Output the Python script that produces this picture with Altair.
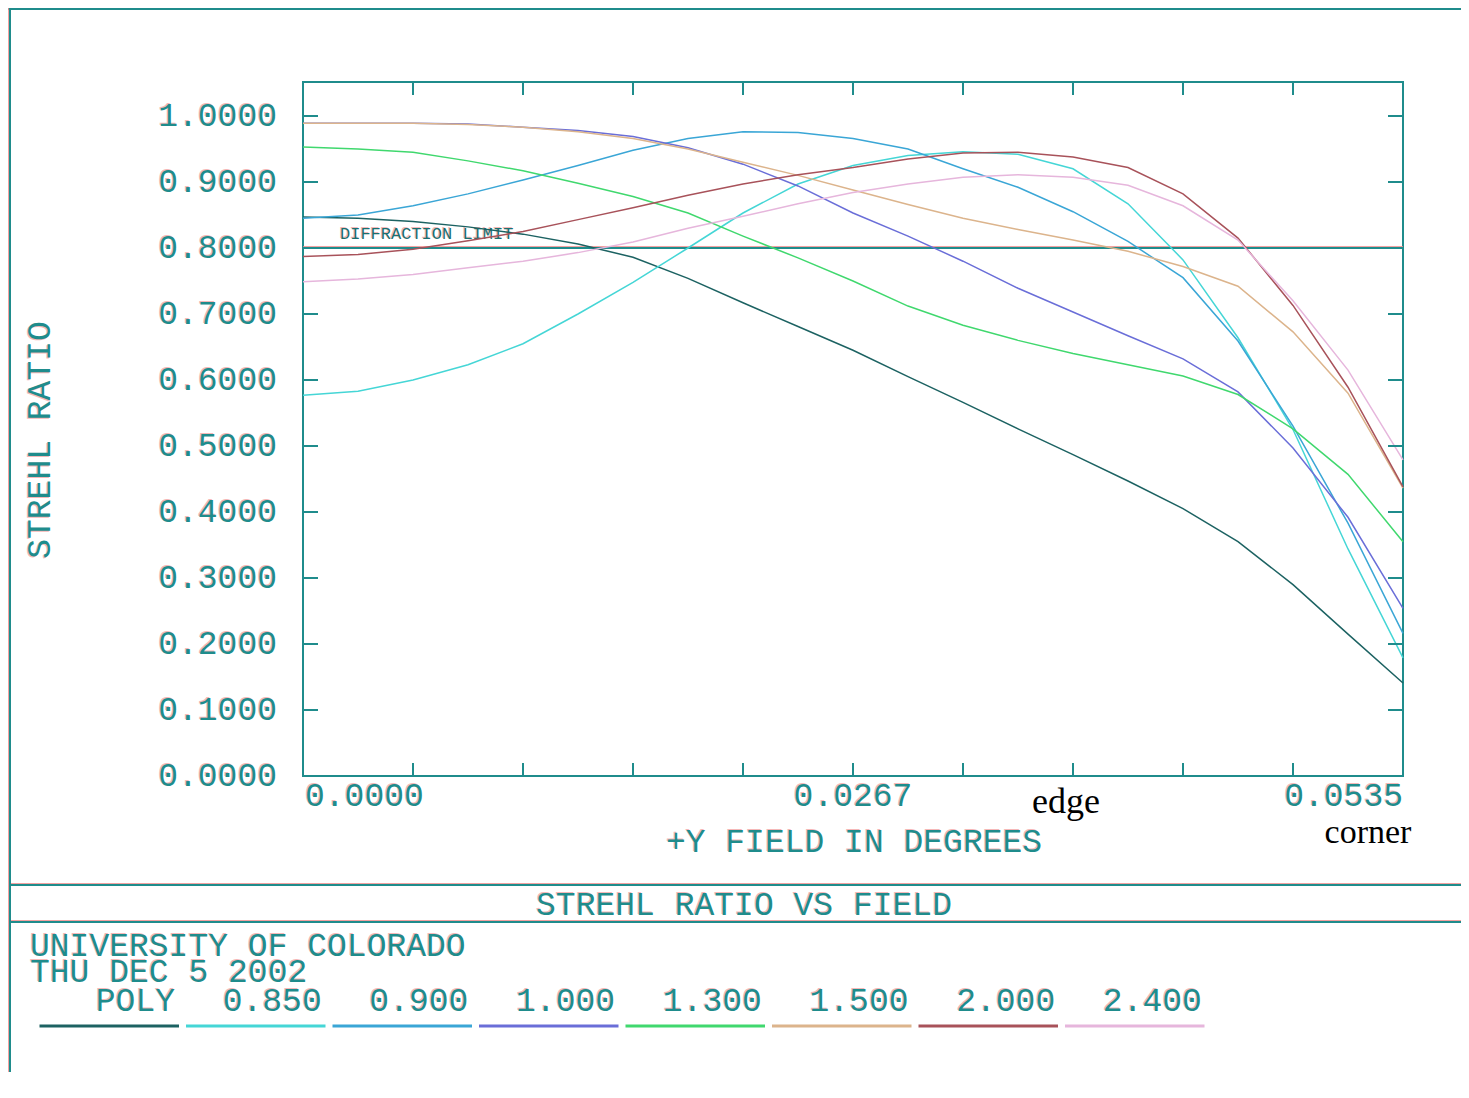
import altair as alt
import pandas as pd

# ---------------- data ----------------
FIELD = [0.0, 0.002675, 0.00535, 0.008025, 0.0107, 0.013375, 0.01605, 0.018725,
         0.0214, 0.024075, 0.02675, 0.029425, 0.0321, 0.034775, 0.03745, 0.040125,
         0.0428, 0.045475, 0.04815, 0.050825, 0.0535]

SERIES = ["POLY", "0.850", "0.900", "1.000", "1.300", "1.500", "2.000", "2.400"]

POLY = [0.847, 0.845, 0.840, 0.832, 0.821, 0.806, 0.786, 0.754, 0.717, 0.681, 0.645,
        0.605, 0.566, 0.526, 0.487, 0.447, 0.405, 0.355, 0.290, 0.215, 0.141]
W0850 = [0.577, 0.583, 0.600, 0.623, 0.655, 0.700, 0.748, 0.800, 0.853, 0.897, 0.925,
         0.940, 0.946, 0.942, 0.920, 0.867, 0.782, 0.664, 0.525, 0.344, 0.179]
W0900 = [0.845, 0.850, 0.864, 0.882, 0.903, 0.925, 0.948, 0.966, 0.976, 0.975, 0.966,
         0.950, 0.920, 0.892, 0.855, 0.810, 0.755, 0.659, 0.530, 0.383, 0.216]
W1000 = [0.989, 0.989, 0.989, 0.988, 0.983, 0.978, 0.969, 0.952, 0.927, 0.894, 0.853,
         0.818, 0.780, 0.739, 0.703, 0.667, 0.632, 0.582, 0.497, 0.392, 0.254]
W1300 = [0.953, 0.950, 0.945, 0.932, 0.917, 0.898, 0.878, 0.853, 0.818, 0.785, 0.750,
         0.712, 0.683, 0.660, 0.640, 0.623, 0.606, 0.578, 0.526, 0.457, 0.355]
W1500 = [0.989, 0.989, 0.989, 0.987, 0.983, 0.976, 0.966, 0.950, 0.930, 0.910, 0.888,
         0.866, 0.845, 0.828, 0.812, 0.795, 0.772, 0.742, 0.673, 0.580, 0.436]
W2000 = [0.787, 0.790, 0.798, 0.811, 0.825, 0.843, 0.861, 0.880, 0.897, 0.911, 0.922,
         0.935, 0.944, 0.945, 0.938, 0.922, 0.882, 0.815, 0.713, 0.589, 0.438]
W2400 = [0.749, 0.753, 0.760, 0.770, 0.780, 0.793, 0.809, 0.830, 0.848, 0.867, 0.884,
         0.897, 0.907, 0.911, 0.907, 0.895, 0.864, 0.812, 0.720, 0.615, 0.479]

COLORS = ["#1c6262", "#45d6d6", "#3aa6d6", "#6a6ed8", "#40d86e", "#dcb48c", "#a8525a", "#e6b6dc"]

Y_TICKS = [0.1, 0.2, 0.3, 0.4, 0.5, 0.6, 0.7, 0.8, 0.9, 1.0]
Y_LABELS = [0.0, 0.1, 0.2, 0.3, 0.4, 0.5, 0.6, 0.7, 0.8, 0.9, 1.0]
X_TICKS = [0.00535, 0.0107, 0.01605, 0.0214, 0.02675, 0.0321, 0.03745, 0.0428, 0.04815]
X_LABEL_VALUES = [0.0, 0.02675, 0.0535]
X_LABEL_TEXT = ["0.0000", "0.0267", "0.0535"]
DIFFRACTION_LIMIT = 0.8

TITLE = "STREHL RATIO VS FIELD"
X_TITLE = "+Y FIELD IN DEGREES"
Y_TITLE = "STREHL RATIO"
INFO_1 = "UNIVERSITY OF COLORADO"
INFO_2 = "THU DEC 5 2002"

# ---------------- styling ----------------
TEAL = "#1f8c8c"
RED = "#f08a8a"
MONO = "Liberation Mono"
FS = 33
W, H = 1100, 694

xs = alt.Scale(domain=[0, 0.0535], nice=False, zero=False)
ys = alt.Scale(domain=[0, 1.0515], nice=False, zero=False)

rows = []
for name, vals in zip(SERIES, [POLY, W0850, W0900, W1000, W1300, W1500, W2000, W2400]):
    for xv, yv in zip(FIELD, vals):
        rows.append({"field": xv, "strehl": yv, "series": name})
df = pd.DataFrame(rows)

color_scale = alt.Scale(domain=SERIES, range=COLORS)

layers = []


def text_layers(data, enc, halo=True, **mk):
    """Plotter-style text: a faint red ghost offset up-left, then the teal text."""
    dx = mk.pop("dx", 0)
    dy = mk.pop("dy", 0)
    color = mk.pop("color", TEAL)
    base = alt.Chart(data)
    out = []
    if halo:
        out.append(base.mark_text(color=RED, opacity=0.6, dx=dx - 1, dy=dy - 1, **mk).encode(**enc))
    out.append(base.mark_text(color=color, dx=dx, dy=dy, **mk).encode(**enc))
    return out


def one(text):
    return pd.DataFrame({"t": [text]})


def hline(y, x1, x2, width=2):
    d = one("")
    return [
        alt.Chart(d).mark_rule(color=RED, strokeWidth=1, opacity=0.8).encode(
            x=alt.value(x1), x2=alt.value(x2), y=alt.value(y - 1.5)),
        alt.Chart(d).mark_rule(color=TEAL, strokeWidth=width).encode(
            x=alt.value(x1), x2=alt.value(x2), y=alt.value(y)),
    ]


# diffraction limit line and label
dl = pd.DataFrame({"y": [DIFFRACTION_LIMIT], "t": ["DIFFRACTION LIMIT"]})
layers.append(alt.Chart(dl).mark_rule(color=RED, strokeWidth=1, opacity=0.8).encode(
    y=alt.Y("y:Q", scale=ys, axis=None), yOffset=alt.value(-1.5)))
layers.append(alt.Chart(dl).mark_rule(color=TEAL, strokeWidth=1.8).encode(
    y=alt.Y("y:Q", scale=ys, axis=None)))
layers += text_layers(dl, dict(text="t:N", x=alt.value(37), y=alt.Y("y:Q", scale=ys, axis=None)),
                      font=MONO, fontSize=17, align="left", baseline="middle", dy=-14,
                      color="#1a7070")

# curves
layers.append(alt.Chart(df).mark_line(strokeWidth=1.5).encode(
    x=alt.X("field:Q", scale=xs, axis=None),
    y=alt.Y("strehl:Q", scale=ys, axis=None),
    color=alt.Color("series:N", scale=color_scale, legend=None),
    order=alt.Order("field:Q"),
))

# inward ticks on all four sides
yt = pd.DataFrame({"v": Y_TICKS})
xt = pd.DataFrame({"v": X_TICKS})
for xa, xb in [(0, 15), (W - 15, W)]:
    layers.append(alt.Chart(yt).mark_rule(color=TEAL, strokeWidth=2).encode(
        y=alt.Y("v:Q", scale=ys, axis=None), x=alt.value(xa), x2=alt.value(xb)))
for ya, yb in [(H, H - 13), (0, 13)]:
    layers.append(alt.Chart(xt).mark_rule(color=TEAL, strokeWidth=2).encode(
        x=alt.X("v:Q", scale=xs, axis=None), y=alt.value(ya), y2=alt.value(yb)))

# y labels
yl = pd.DataFrame({"v": Y_LABELS})
layers += text_layers(yl, dict(text=alt.Text("v:Q", format=".4f"), x=alt.value(-26),
                               y=alt.Y("v:Q", scale=ys, axis=None)),
                      font=MONO, fontSize=FS, align="right", baseline="middle")

# x labels (first flush left, middle centred, last flush right)
for v, t, al, off in zip(X_LABEL_VALUES, X_LABEL_TEXT, ["left", "center", "right"], [2, 0, 0]):
    d = pd.DataFrame({"v": [v], "t": [t]})
    layers += text_layers(d, dict(text="t:N", x=alt.X("v:Q", scale=xs, axis=None), y=alt.value(H + 20)),
                          font=MONO, fontSize=FS, align=al, baseline="middle", dx=off)

# axis titles
layers += text_layers(one(X_TITLE), dict(text="t:N", x=alt.value(551), y=alt.value(760)),
                      font=MONO, fontSize=FS, align="center", baseline="middle")
layers += text_layers(one(Y_TITLE), dict(text="t:N", x=alt.value(-263), y=alt.value(358)),
                      font=MONO, fontSize=FS, align="center", baseline="middle", angle=270)

# edge / corner annotations
layers += text_layers(one("edge"), dict(text="t:N", x=alt.value(763), y=alt.value(720)), halo=False,
                      font="Liberation Serif", fontSize=36, align="center", baseline="middle",
                      color="black")
layers += text_layers(one("corner"), dict(text="t:N", x=alt.value(1065), y=alt.value(751)), halo=False,
                      font="Liberation Serif", fontSize=34, align="center", baseline="middle",
                      color="black")

# panel frame and title bar
layers += hline(803, -293, 1170)
layers += hline(840, -293, 1170)
layers += hline(-73, -295, 1170)
layers.append(alt.Chart(one("")).mark_rule(color=RED, strokeWidth=1, opacity=0.8).encode(
    x=alt.value(-294.5), y=alt.value(-74), y2=alt.value(990)))
layers.append(alt.Chart(one("")).mark_rule(color=TEAL, strokeWidth=2).encode(
    x=alt.value(-293), y=alt.value(-74), y2=alt.value(990)))

layers += text_layers(one(TITLE), dict(text="t:N", x=alt.value(441), y=alt.value(823)),
                      font=MONO, fontSize=FS, align="center", baseline="middle")
layers += text_layers(one(INFO_1), dict(text="t:N", x=alt.value(-273), y=alt.value(864)),
                      font=MONO, fontSize=FS, align="left", baseline="middle")
layers += text_layers(one(INFO_2), dict(text="t:N", x=alt.value(-273), y=alt.value(890)),
                      font=MONO, fontSize=FS, align="left", baseline="middle")

# legend row: labels and coloured line samples
leg = pd.DataFrame({"series": SERIES, "idx": list(range(len(SERIES)))})
leg_text = alt.Chart(leg).transform_calculate(lx="-128 + 146.7 * datum.idx")
layers.append(leg_text.mark_text(color=RED, opacity=0.6, font=MONO, fontSize=FS, align="right",
                                 baseline="middle", dx=-1, dy=-1).encode(
    text="series:N", x=alt.X("lx:Q", scale=None, axis=None), y=alt.value(919)))
layers.append(leg_text.mark_text(color=TEAL, font=MONO, fontSize=FS, align="right",
                                 baseline="middle").encode(
    text="series:N", x=alt.X("lx:Q", scale=None, axis=None), y=alt.value(919)))
layers.append(alt.Chart(leg).transform_calculate(
    lx="-263.5 + 146.5 * datum.idx", lx2="-124 + 146.5 * datum.idx").mark_rule(strokeWidth=3).encode(
    x=alt.X("lx:Q", scale=None, axis=None), x2="lx2:Q", y=alt.value(944),
    color=alt.Color("series:N", scale=color_scale, legend=None)))

chart = alt.layer(*layers).properties(
    width=W, height=H,
    autosize=alt.AutoSizeParams(type="none"),
    padding={"left": 295, "top": 74, "right": 58, "bottom": 314},
    background="white",
).configure_view(stroke=TEAL, strokeWidth=2)

chart.save("out.html", embed_options={"renderer": "svg", "actions": False})
